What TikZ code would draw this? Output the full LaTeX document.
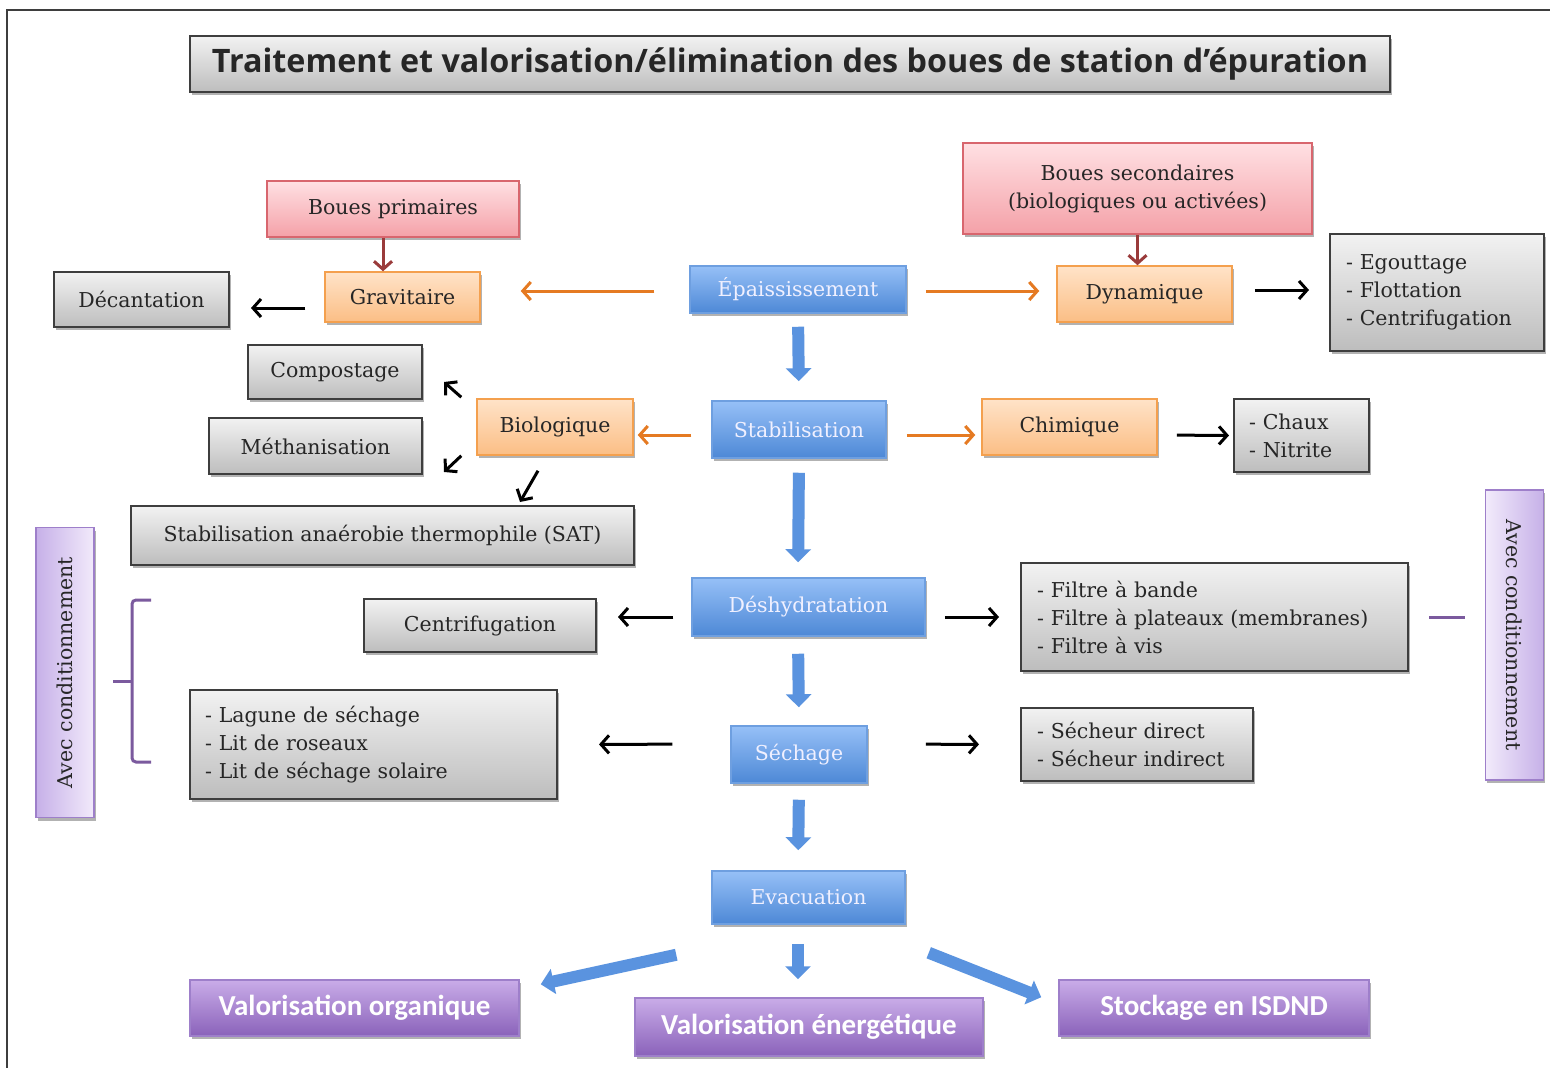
\documentclass[tikz,border=0pt]{standalone}
\usepackage{fontspec}
\usepackage{graphicx}
\newfontfamily\titlefont{Open Sans}
\newfontfamily\calfont{Carlito}
\newfontfamily\serifb{DejaVu Serif}
\usetikzlibrary{arrows.meta,shadows}
\definecolor{grayT}{HTML}{F2F2F2}
\definecolor{grayB}{HTML}{BDBDBD}
\definecolor{grayL}{HTML}{3E3E3E}
\definecolor{pinkT}{HTML}{FFE0E3}
\definecolor{pinkB}{HTML}{F4A1A8}
\definecolor{pinkL}{HTML}{D8666E}
\definecolor{orT}{HTML}{FFE3C8}
\definecolor{orB}{HTML}{FBBE85}
\definecolor{orL}{HTML}{F4A04E}
\definecolor{blT}{HTML}{96C0F7}
\definecolor{blB}{HTML}{4D88D6}
\definecolor{blL}{HTML}{6E9FE0}
\definecolor{puT}{HTML}{C9ACE8}
\definecolor{puB}{HTML}{8A62BA}
\definecolor{puL}{HTML}{9E7FCA}
\definecolor{spT}{HTML}{F2EAFB}
\definecolor{spB}{HTML}{C6B0E8}
\definecolor{arOr}{HTML}{E57A22}
\definecolor{arRed}{HTML}{9A3B3B}
\definecolor{arBl}{HTML}{5A93DF}
\definecolor{brPu}{HTML}{7B5A9E}
\definecolor{txt}{HTML}{262626}
\newcommand\bodyf{\serifb\fontsize{20.5}{28}\selectfont}
\begin{document}
\begin{tikzpicture}[x=1pt,y=-1pt,
  shad/.style={drop shadow={shadow xshift=1.5pt,shadow yshift=-3pt,opacity=0.3,fill=black}},
  basebox/.style={shad,inner sep=2pt,font=\bodyf,text=txt},
  graybox/.style={basebox,draw=grayL,line width=2pt,top color=grayT,bottom color=grayB},
  pinkbox/.style={basebox,draw=pinkL,line width=1.5pt,top color=pinkT,bottom color=pinkB},
  orbox/.style={basebox,draw=orL,line width=1.5pt,top color=orT,bottom color=orB},
  bluebox/.style={basebox,draw=blL,line width=1.5pt,top color=blT,bottom color=blB,text=white!94!blue},
  purbox/.style={shad,draw=puL,line width=1.5pt,top color=puT,bottom color=puB,text=white,font=\calfont\bfseries\fontsize{29}{34}\selectfont},
  sidebox/.style={shad,draw=puL,line width=1.5pt,font=\bodyf,text=txt,minimum width=290pt,minimum height=58pt},
  listbox/.style={graybox,align=left,inner ysep=0pt},
  blk/.style={line width=3pt,draw=black,-{Straight Barb[length=8pt,width=18pt]}},
  orarr/.style={line width=3pt,draw=arOr,-{Straight Barb[length=8pt,width=18pt]}},
  redarr/.style={line width=3pt,draw=arRed,-{Straight Barb[length=8pt,width=18pt]}},
  blockarr/.style={line width=12pt,draw=arBl,-{Triangle[length=13pt,width=25pt]}},
  bracketline/.style={line width=3pt,draw=brPu,rounded corners=4pt},
  frameline/.style={line width=2pt,draw=grayL}
]
\useasboundingbox (0,0) rectangle (1550,1068);
\fill[white] (0,0) rectangle (1550,1068);
% frame
\draw[frameline] (7,1068) -- (7,10) -- (1550,10);

% title
\node[graybox,minimum width=1200pt,minimum height=56pt] (title) at (790,64)
  {\resizebox{1156pt}{!}{\titlefont\bfseries Traitement et valorisation/élimination des boues de station d’épuration}};

% top row
\node[pinkbox,minimum width=252pt,minimum height=56pt] (bp) at (393,209) {Boues primaires};
\node[pinkbox,minimum width=349pt,minimum height=91pt,align=center] (bs) at (1137.5,188.5) {Boues secondaires\\(biologiques ou activées)};
\node[orbox,minimum width=155pt,minimum height=50pt] (grav) at (402.5,297) {Gravitaire};
\node[graybox,minimum width=175pt,minimum height=55pt] (dec) at (141.5,299.5) {Décantation};
\node[bluebox,minimum width=216pt,minimum height=47pt] (epa) at (798,289.5) {Épaississement};
\node[orbox,minimum width=175pt,minimum height=56pt] (dyn) at (1144.5,294) {Dynamique};
\node[listbox,minimum width=214pt,minimum height=117pt,inner xsep=16pt,text width=182pt] (ego) at (1437,292.5)
  {- Egouttage\\- Flottation\\- Centrifugation};

% stabilisation row
\node[graybox,minimum width=174pt,minimum height=54pt] (comp) at (335,372) {Compostage};
\node[graybox,minimum width=213pt,minimum height=56pt] (meth) at (315.5,446) {Méthanisation};
\node[orbox,minimum width=156pt,minimum height=56pt] (bio) at (555,427) {Biologique};
\node[bluebox,minimum width=174pt,minimum height=57pt] (stab) at (799,429.5) {Stabilisation};
\node[orbox,minimum width=175pt,minimum height=56pt] (chim) at (1069.5,427) {Chimique};
\node[listbox,minimum width=135pt,minimum height=73pt,inner xsep=15pt,text width=105pt] (chaux) at (1301.5,435.5)
  {- Chaux\\- Nitrite};
\node[graybox,minimum width=503pt,minimum height=59pt] (sat) at (382.5,535.5) {Stabilisation anaérobie thermophile (SAT)};

% deshydratation row
\node[bluebox,minimum width=233pt,minimum height=58pt] (desh) at (808.5,607) {Déshydratation};
\node[graybox,minimum width=232pt,minimum height=53pt] (centri) at (480,625.5) {Centrifugation};
\node[listbox,minimum width=387pt,minimum height=108pt,inner xsep=16pt,text width=355pt] (filtre) at (1214.5,617)
  {\mbox{- Filtre à bande}\\\mbox{- Filtre à plateaux (membranes)}\\\mbox{- Filtre à vis}};

% sechage row
\node[bluebox,minimum width=136pt,minimum height=57pt] (sech) at (799,754.5) {Séchage};
\node[listbox,minimum width=367pt,minimum height=109pt,inner xsep=15pt,text width=337pt] (lag) at (373.5,744.5)
  {- Lagune de séchage\\- Lit de roseaux\\- Lit de séchage solaire};
\node[listbox,minimum width=232pt,minimum height=73pt,inner xsep=16pt,text width=200pt] (secheur) at (1137,744.5)
  {- Sécheur direct\\- Sécheur indirect};

% evacuation
\node[bluebox,minimum width=193pt,minimum height=53pt] (evac) at (808.5,897.5) {Evacuation};
\node[purbox,minimum width=329pt,minimum height=56pt] (vorg) at (354.5,1008) {Valorisation organique};
\node[purbox,minimum width=348pt,minimum height=58pt] (ven) at (809,1027) {Valorisation énergétique};
\node[purbox,minimum width=310pt,minimum height=56pt] (stock) at (1214,1008) {Stockage en ISDND};

% side boxes
\node[sidebox,rotate=90,left color=spB,right color=spT] (lbox) at (65,672.5) {Avec conditionnement};
\node[sidebox,rotate=-90,left color=spT,right color=spB] (rbox) at (1514.5,635) {Avec conditionnement};

% connectors: top
\draw[redarr] ([xshift=-10pt]bp.south) -- ([xshift=-19.5pt]grav.north);
\draw[redarr] (bs.south) -- ([xshift=-7pt]dyn.north);
\draw[orarr,shorten <=35pt,shorten >=40pt] ([yshift=-1.5pt]epa.west) -- ([yshift=6pt]grav.east);
\draw[orarr,shorten <=19pt,shorten >=17pt] ([yshift=-1.5pt]epa.east) -- ([yshift=3pt]dyn.west);
\draw[blk,shorten <=19pt,shorten >=21pt] ([yshift=-11pt]grav.west) -- ([yshift=-8.5pt]dec.east);
\draw[blk,shorten <=22pt,shorten >=20pt] ([yshift=4pt]dyn.east) -- ([yshift=2.5pt]ego.west);
\draw[blockarr,shorten <=13pt,shorten >=19pt] (epa.south) -- (stab.north);

% connectors: stabilisation
\draw[orarr,shorten <=20pt,shorten >=4pt] ([yshift=-5.5pt]stab.west) -- ([yshift=-8pt]bio.east);
\draw[orarr,shorten <=20pt,shorten >=6pt] ([yshift=-5.5pt]stab.east) -- ([yshift=-8pt]chim.west);
\draw[blk,shorten <=19pt,shorten >=4pt] ([yshift=-8pt]chim.east) -- (chaux.west);
\draw[blk] ([xshift=-15pt,yshift=1pt]bio.north west) -- ([xshift=21pt,yshift=18pt]comp.south east);
\draw[blk] ([xshift=-15pt]bio.south west) -- ([xshift=21pt,yshift=3pt]meth.south east);
\draw[blk] ([xshift=-17pt,yshift=-15pt]bio.south) -- ([xshift=-115pt,yshift=3pt]sat.north east);
\draw[blockarr,shorten <=14pt,shorten >=15pt] (stab.south) -- ([xshift=-10.5pt]desh.north);

% connectors: deshydratation
\draw[blk,shorten <=18pt,shorten >=21pt] ([yshift=-10pt]desh.west) -- ([yshift=8.5pt]centri.east);
\draw[blk,shorten <=19pt,shorten >=21pt] ([yshift=-10pt]desh.east) -- (filtre.west);
\draw[blockarr,shorten <=17pt,shorten >=18pt] ([xshift=-10.5pt]desh.south) -- (sech.north);

% connectors: sechage
\draw[blk,shorten <=58pt,shorten >=41pt] ([yshift=10.5pt]sech.west) -- (lag.east);
\draw[blk,shorten <=58pt,shorten >=41pt] ([yshift=10.5pt]sech.east) -- (secheur.west);
\draw[blockarr,shorten <=16pt,shorten >=20pt] (sech.south) -- ([xshift=-10.5pt]evac.north);

% connectors: evacuation
\draw[blockarr,shorten <=19pt,shorten >=18pt] ([xshift=-10.5pt]evac.south) -- ([xshift=-11pt]ven.north);
\draw[blockarr] ([xshift=-35pt,yshift=-30pt]evac.south west) -- ([xshift=21pt,yshift=-5pt]vorg.north east);
\draw[blockarr] ([xshift=23pt,yshift=-28pt]evac.south east) -- ([xshift=-17pt,yshift=-18pt]stock.north west);

% conditioning marks
\draw[bracketline] (151,600) -- (132,600) -- (132,762) -- (151,762);
\draw[bracketline,rounded corners=0pt] (132,681) -- (113,681);
\draw[line width=3pt,draw=brPu,shorten <=20pt,shorten >=20pt] (filtre.east) -- (filtre.east -| rbox.south);
\end{tikzpicture}
\end{document}
